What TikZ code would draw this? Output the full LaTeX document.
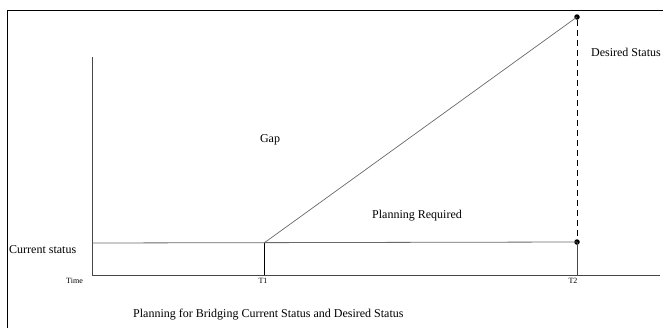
\documentclass[tikz,border=0pt]{standalone}
\usepackage{fontspec}
\setmainfont{Liberation Serif}
\usetikzlibrary{positioning}
\definecolor{axisgray}{RGB}{70, 70, 70}
\definecolor{linegray}{RGB}{105, 105, 105}

\begin{document}
\begin{tikzpicture}[x=1pt, y=-1pt,
  lbl/.style={font=\fontsize{12}{14}\selectfont, inner sep=0pt},
  tick/.style={font=\fontsize{8}{9}\selectfont, inner sep=0pt},
  dot/.style={circle, fill=black, inner sep=0pt, minimum size=5.5pt}]
  \useasboundingbox (0,0) rectangle (663,327);
  \clip (0,0) rectangle (663,327);

  % Outer frame
  \draw[line width=0.8pt] (7,340) -- (7,10) -- (680,10);

  % Axes
  \coordinate (origin) at (92,275);
  \coordinate (ytop) at (92,57);
  \coordinate (xend) at (660,275);
  \draw[axisgray, line width=0.9pt] (ytop) -- (origin) -- (xend);

  % Status levels
  \coordinate (cur) at (92,243);
  \coordinate (t1) at (264,243);
  \coordinate (t1base) at (264,275);
  \coordinate (t2base) at (577,275);
  \node[dot] (now) at (577,242) {};
  \node[dot] (goal) at (577,17) {};

  \draw[linegray, line width=0.8pt] (cur) -- (now.center);
  \draw[black, line width=0.6pt] (t1base) -- (t1);
  \draw[linegray, line width=0.7pt] (t1) -- (goal.center);
  \draw[black, line width=0.7pt, dash pattern=on 6pt off 4pt] (goal) -- (now);
  \draw[axisgray, line width=0.8pt] (now.center) -- (t2base);

  % Labels
  \node[lbl, anchor=west] (curlbl) at (9,250) {Current status};
  \node[lbl] (gap) at (270,140) {Gap};
  \node[lbl] (plan) at (417,216) {Planning Required};
  \node[lbl, anchor=east] (desired) at (661,52) {Desired Status};
  \node[tick, anchor=east] (time) at (83,281) {Time};
  \node[tick] (t1lbl) at (263,281) {T1};
  \node[tick] (t2lbl) at (573,281) {T2};
  \node[lbl, anchor=west] (caption) at (133,315) {Planning for Bridging Current Status and Desired Status};
\end{tikzpicture}
\end{document}
